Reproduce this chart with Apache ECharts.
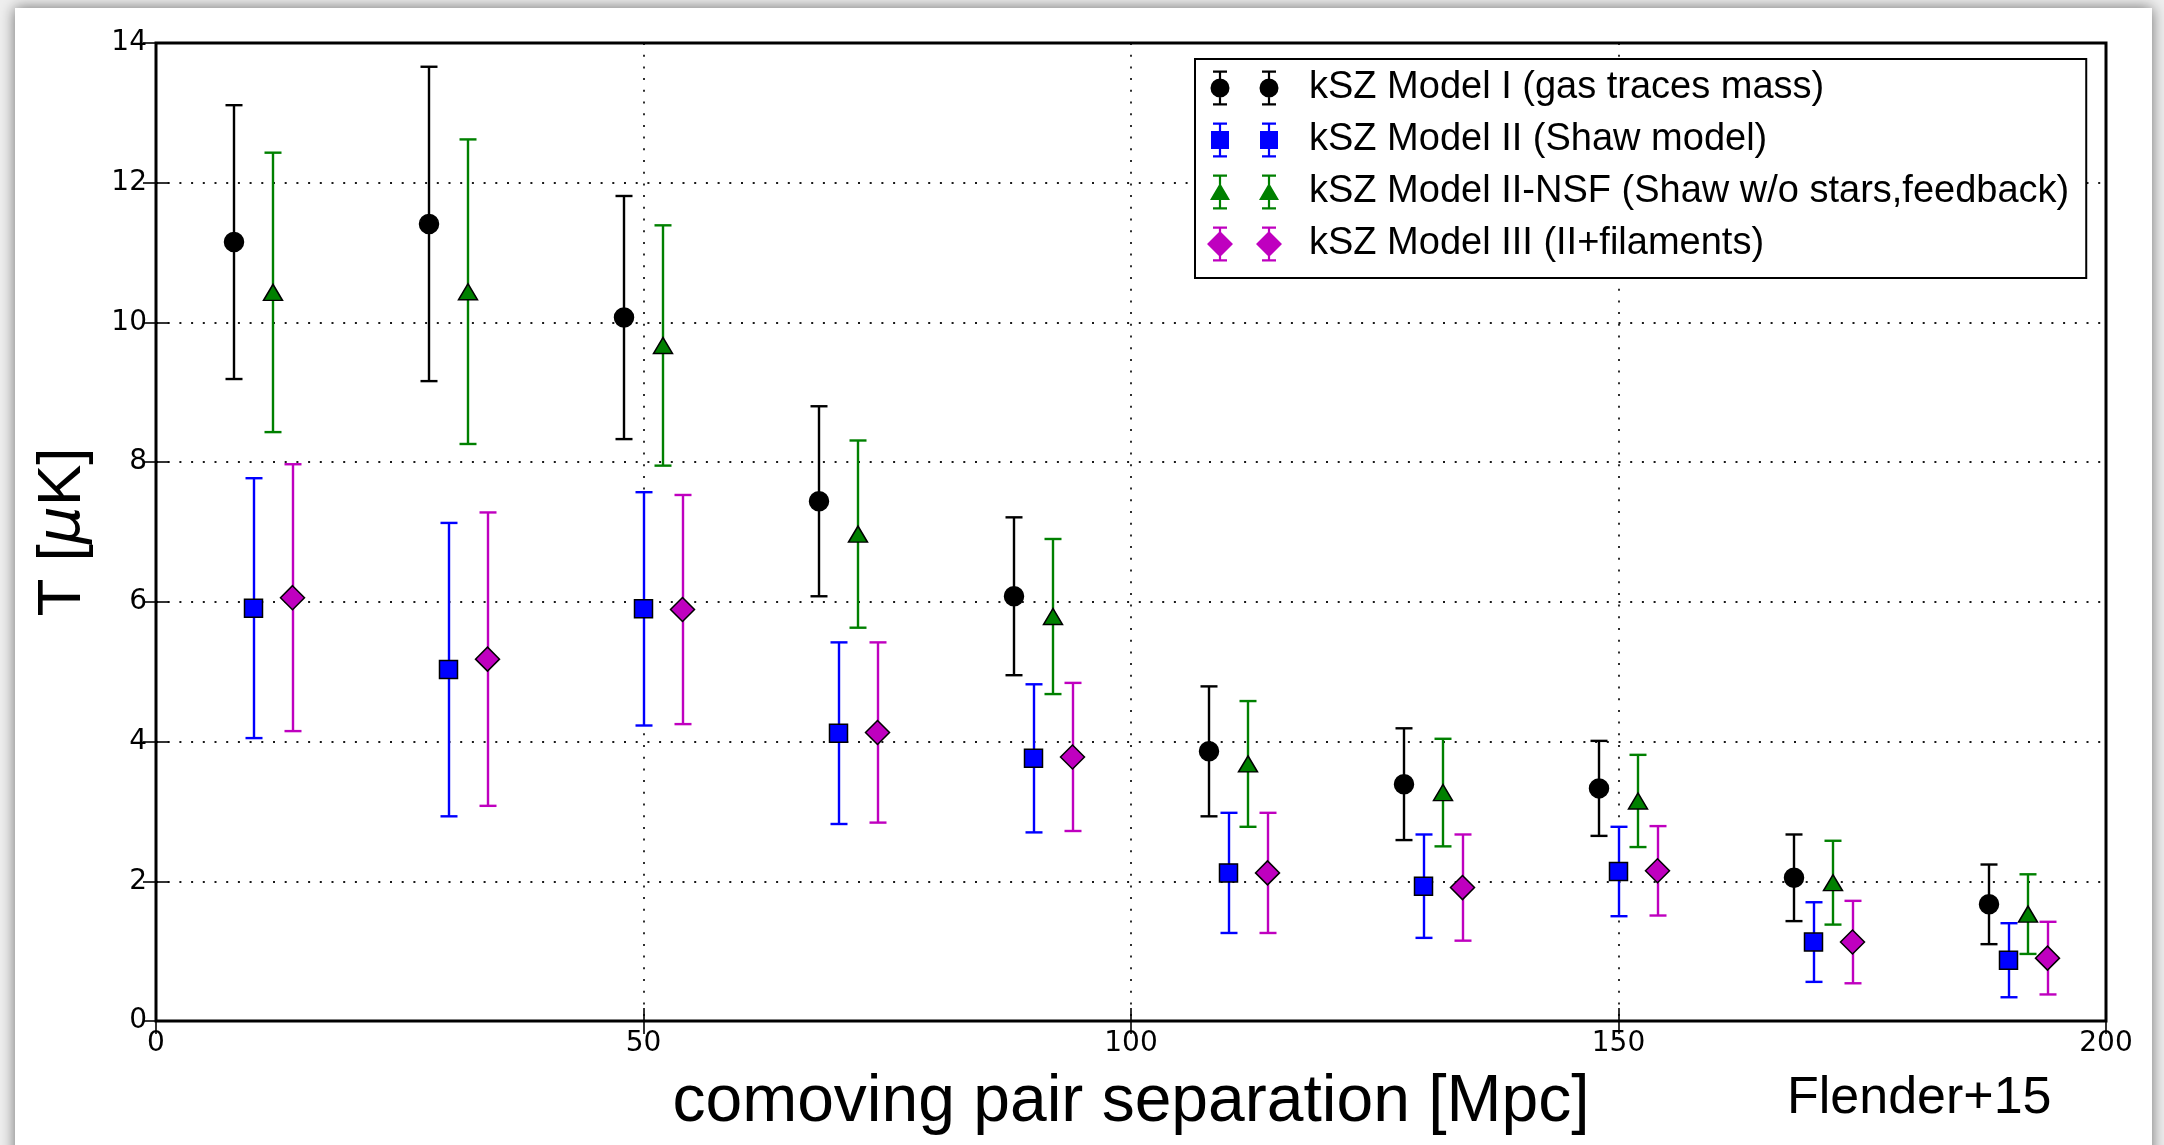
<!DOCTYPE html>
<html>
<head>
<meta charset="utf-8">
<title>kSZ pairwise temperature vs. comoving separation</title>
<script src="https://cdn.jsdelivr.net/npm/echarts@6/dist/echarts.min.js"></script>
<style>
  html, body { margin: 0; padding: 0; background: #efefef; overflow: hidden; }
  #card {
    position: absolute; left: 15px; top: 8px; width: 2137px; height: 1170px;
    background: #ffffff; box-shadow: 0 0 14px rgba(0, 0, 0, 0.55);
  }
  #chart { position: absolute; left: 0; top: 0; width: 2164px; height: 1145px; }
</style>
</head>
<body>
<div id="card"></div>
<div id="chart"></div>
<script>
// Comoving pair separation bin centres [Mpc]
const pairSeparation = [10, 30, 50, 70, 90, 110, 130, 150, 170, 190];

// Pairwise kSZ amplitude T [muK] and 1-sigma errors for each gas model
const modelI_T       = [11.15, 11.41, 10.07, 7.44, 6.08, 3.86, 3.39, 3.33, 2.05, 1.67];
const modelI_err     = [1.96, 2.25, 1.74, 1.36, 1.13, 0.93, 0.80, 0.68, 0.62, 0.57];
const modelII_T      = [5.91, 5.03, 5.90, 4.12, 3.76, 2.12, 1.93, 2.14, 1.13, 0.87];
const modelII_err    = [1.86, 2.10, 1.67, 1.30, 1.06, 0.86, 0.74, 0.64, 0.57, 0.53];
const modelIINSF_T   = [10.43, 10.44, 9.67, 6.97, 5.79, 3.68, 3.27, 3.15, 1.98, 1.53];
const modelIINSF_err = [2.00, 2.18, 1.72, 1.34, 1.11, 0.90, 0.77, 0.66, 0.60, 0.57];
const modelIII_T     = [6.06, 5.18, 5.89, 4.13, 3.78, 2.12, 1.91, 2.15, 1.13, 0.90];
const modelIII_err   = [1.91, 2.10, 1.64, 1.29, 1.06, 0.86, 0.76, 0.64, 0.59, 0.52];

const seriesNames = [
  'kSZ Model I (gas traces mass)',
  'kSZ Model II (Shaw model)',
  'kSZ Model II-NSF (Shaw w/o stars,feedback)',
  'kSZ Model III (II+filaments)'
];

const xTicks = [0, 50, 100, 150, 200];
const yTicks = [0, 2, 4, 6, 8, 10, 12, 14];

// Plot styling per model: horizontal dodge within a bin, colour and marker
const models = [
  { name: seriesNames[0], T: modelI_T,     err: modelI_err,     dx: -2, color: '#000000', marker: 'circle',   size: 19 },
  { name: seriesNames[1], T: modelII_T,    err: modelII_err,    dx: 0,  color: '#0000ff', marker: 'rect',     size: 18 },
  { name: seriesNames[2], T: modelIINSF_T, err: modelIINSF_err, dx: 2,  color: '#008000', marker: 'triangle', size: [19, 16] },
  { name: seriesNames[3], T: modelIII_T,   err: modelIII_err,   dx: 4,  color: '#bf00bf', marker: 'diamond',  size: 24 }
];

const CAP_HALF = 8.5;
const BAR_WIDTH = 2.4;

// Legend glyph: two error bars with markers, drawn as one filled path
const ICON_W = 99, ICON_H = 38;
function rectPath(x, y, w, h) {
  return `M${x} ${y} H${x + w} V${y + h} H${x} Z`;
}
function markerPath(kind, x, y) {
  if (kind === 'circle') {
    const r = 9.5;
    return `M${x - r} ${y} A${r} ${r} 0 1 1 ${x + r} ${y} A${r} ${r} 0 1 1 ${x - r} ${y} Z`;
  }
  if (kind === 'rect') {
    return rectPath(x - 9, y - 9, 18, 18);
  }
  if (kind === 'triangle') {
    return `M${x} ${y - 9} L${x + 10} ${y + 8} L${x - 10} ${y + 8} Z`;
  }
  const r = 13;
  return `M${x} ${y - r} L${x + r} ${y} L${x} ${y + r} L${x - r} ${y} Z`;
}
function legendIcon(kind) {
  const cy = ICON_H / 2, half = 16.5, cap = 7;
  const parts = [`M0 0 L0 0 Z`, `M${ICON_W} ${ICON_H} L${ICON_W} ${ICON_H} Z`];
  [15, 64].forEach(function (bx) {
    parts.push(rectPath(bx - 1.1, cy - half, 2.2, 2 * half));
    parts.push(rectPath(bx - cap, cy - half - 1, 2 * cap, 2.2));
    parts.push(rectPath(bx - cap, cy + half - 1.2, 2 * cap, 2.2));
    parts.push(markerPath(kind, bx, cy));
  });
  return 'path://' + parts.join(' ');
}

function errorBarItem(color) {
  return function (params, api) {
    const x = api.value(0), y = api.value(1), e = api.value(2);
    const top = api.coord([x, y + e]);
    const bot = api.coord([x, y - e]);
    const cx = Math.round(top[0]);
    const st = { stroke: color, lineWidth: BAR_WIDTH };
    return {
      type: 'group',
      children: [
        { type: 'line', shape: { x1: cx, y1: top[1], x2: cx, y2: bot[1] }, style: st },
        { type: 'line', shape: { x1: cx - CAP_HALF, y1: top[1], x2: cx + CAP_HALF, y2: top[1] }, style: st },
        { type: 'line', shape: { x1: cx - CAP_HALF, y1: bot[1], x2: cx + CAP_HALF, y2: bot[1] }, style: st }
      ]
    };
  };
}

const series = [];
models.forEach(function (m, k) {
  const xs = pairSeparation.map(function (r) { return r + m.dx; });
  series.push({
    name: m.name,
    type: 'custom',
    xAxisIndex: 0, yAxisIndex: 0,
    renderItem: errorBarItem(m.color),
    itemStyle: { color: m.color },
    encode: { x: 0, y: 1 },
    data: xs.map(function (x, i) { return [x, m.T[i], m.err[i]]; }),
    z: 3 + 2 * k,
    silent: true
  });
  series.push({
    name: m.name,
    type: 'scatter',
    xAxisIndex: 0, yAxisIndex: 0,
    symbol: m.marker,
    symbolSize: m.size,
    itemStyle: { color: m.color, borderColor: '#000000', borderWidth: 1.5, opacity: 1 },
    data: xs.map(function (x, i) { return [x, m.T[i]]; }),
    z: 4 + 2 * k,
    silent: true
  });
});

const tickFont = { fontFamily: 'DejaVu Sans', fontSize: 28, color: '#000000' };
const gridDots = { show: true, lineStyle: { color: '#000000', width: 1.8, type: [2, 9.7], opacity: 0.9 } };
const innerTick = { show: true, inside: true, length: 13, lineStyle: { color: '#000000', width: 1.6 } };

const option = {
  animation: false,
  backgroundColor: 'transparent',
  grid: {
    left: 156, right: 58, top: 43, bottom: 124,
    show: true, borderColor: '#000000', borderWidth: 3, backgroundColor: 'transparent'
  },
  xAxis: [
    {
      type: 'value', position: 'bottom', min: xTicks[0], max: xTicks[xTicks.length - 1], interval: 50,
      axisLine: { show: false }, axisTick: innerTick, splitLine: gridDots,
      axisLabel: Object.assign({ margin: 9 }, tickFont),
      name: 'comoving pair separation [Mpc]', nameLocation: 'middle', nameGap: 49,
      nameTextStyle: { fontFamily: 'Liberation Sans', fontSize: 66, color: '#000000' }
    },
    {
      type: 'value', position: 'top', min: xTicks[0], max: xTicks[xTicks.length - 1], interval: 50,
      axisLine: { show: false }, axisTick: innerTick, splitLine: { show: false }, axisLabel: { show: false }
    }
  ],
  yAxis: [
    {
      type: 'value', position: 'left', min: yTicks[0], max: yTicks[yTicks.length - 1], interval: 2,
      axisLine: { show: false }, axisTick: innerTick, splitLine: gridDots,
      axisLabel: Object.assign({ margin: 9 }, tickFont),
      name: 'T [{mu|μ}K]', nameLocation: 'middle', nameGap: 62, nameRotate: 90,
      nameTextStyle: {
        fontFamily: 'Liberation Sans', fontSize: 62, color: '#000000',
        rich: { mu: { fontFamily: 'DejaVu Sans', fontStyle: 'italic', fontSize: 60, color: '#000000' } }
      }
    },
    {
      type: 'value', position: 'right', min: yTicks[0], max: yTicks[yTicks.length - 1], interval: 2,
      axisLine: { show: false }, axisTick: innerTick, splitLine: { show: false }, axisLabel: { show: false }
    }
  ],
  legend: {
    orient: 'vertical', left: 1195, top: 59,
    padding: [10, 17, 15, 10],
    itemWidth: ICON_W, itemHeight: ICON_H, itemGap: 14,
    backgroundColor: '#ffffff', borderColor: '#000000', borderWidth: 2,
    selectedMode: false,
    itemStyle: { borderWidth: 0 },
    textStyle: { fontFamily: 'Liberation Sans', fontSize: 38, color: '#000000' },
    data: models.map(function (m) {
      return { name: m.name, icon: legendIcon(m.marker), itemStyle: { color: m.color, borderWidth: 0 } };
    })
  },
  graphic: [
    {
      type: 'text', left: 1787, top: 1073,
      style: { text: 'Flender+15', font: '52px "Liberation Sans"', fill: '#000000' }
    }
  ],
  series: series
};

const chart = echarts.init(document.getElementById('chart'), null, { renderer: 'canvas' });
chart.setOption(option);
</script>
</body>
</html>
